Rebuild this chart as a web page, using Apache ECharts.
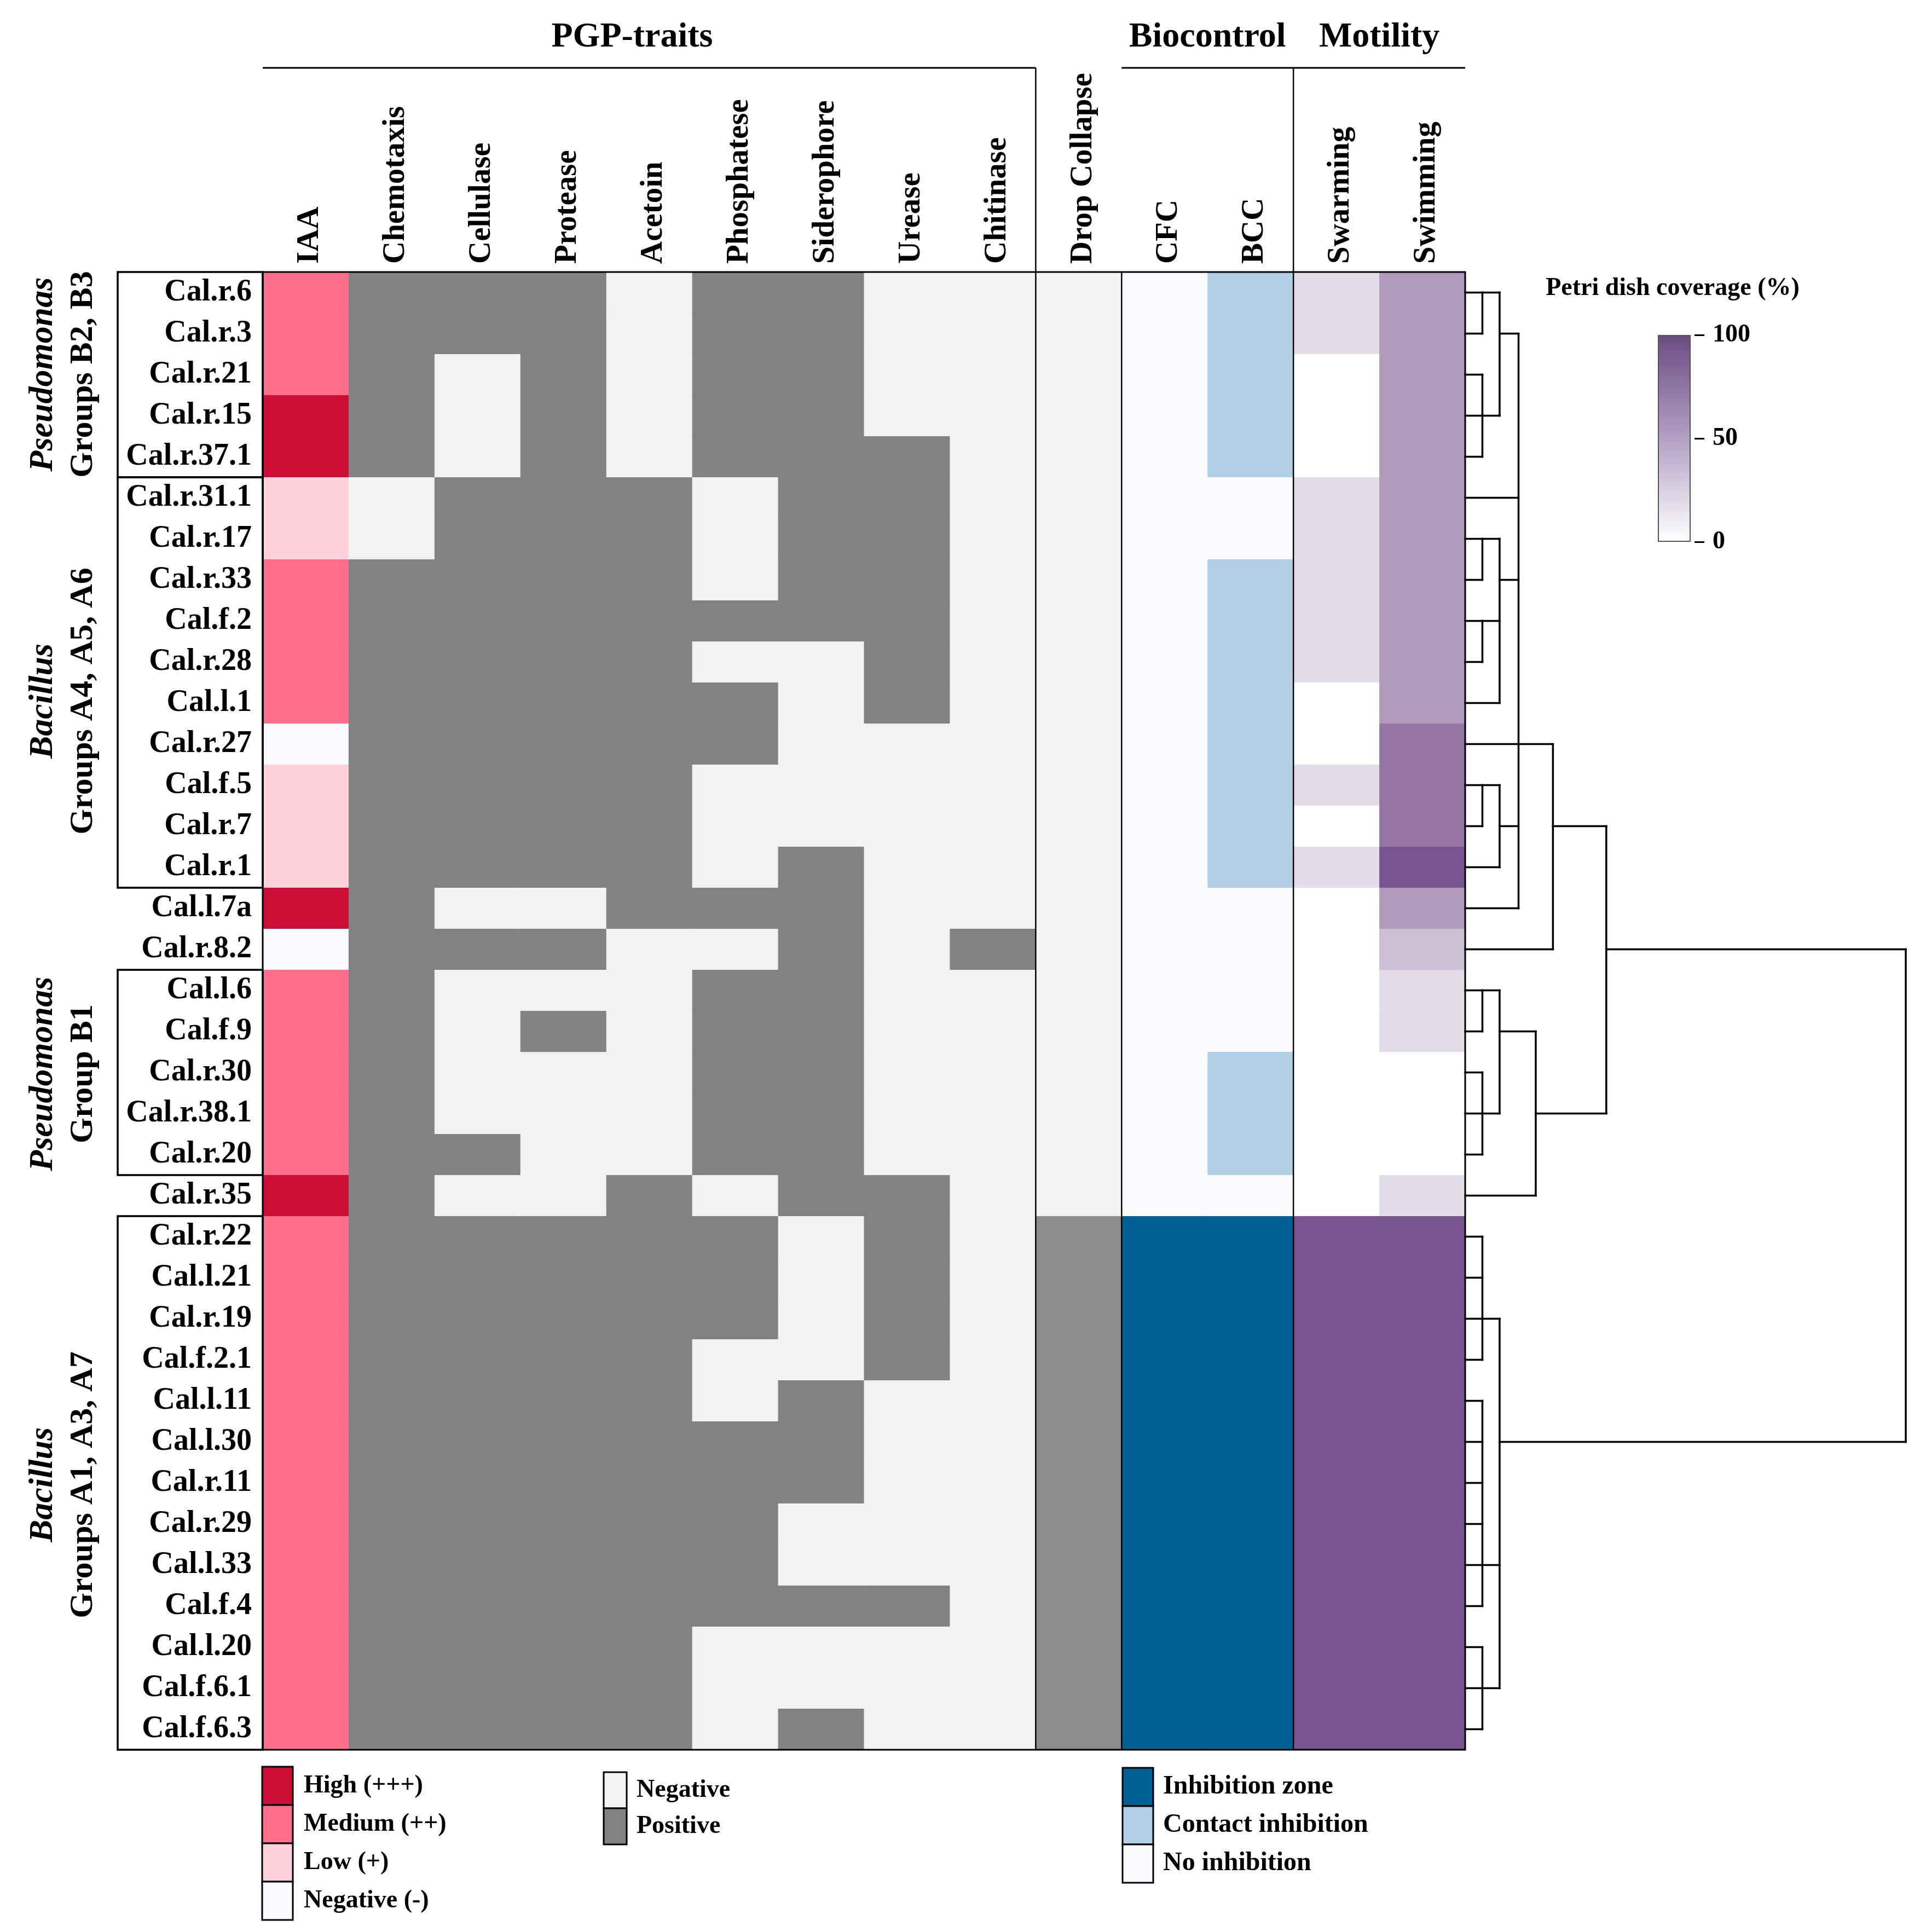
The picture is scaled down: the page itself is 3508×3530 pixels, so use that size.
<!DOCTYPE html>
<html><head><meta charset="utf-8">
<script src="https://cdn.jsdelivr.net/npm/echarts@6/dist/echarts.min.js"></script>
<style>html,body{margin:0;padding:0;background:#fff}#c{width:3508px;height:3530px}</style>
</head><body><div id="c"></div>
<script>
// ---------------- DATA ----------------
const strains = ['Cal.r.6','Cal.r.3','Cal.r.21','Cal.r.15','Cal.r.37.1','Cal.r.31.1','Cal.r.17','Cal.r.33','Cal.f.2','Cal.r.28','Cal.l.1','Cal.r.27','Cal.f.5','Cal.r.7','Cal.r.1','Cal.l.7a','Cal.r.8.2','Cal.l.6','Cal.f.9','Cal.r.30','Cal.r.38.1','Cal.r.20','Cal.r.35','Cal.r.22','Cal.l.21','Cal.r.19','Cal.f.2.1','Cal.l.11','Cal.l.30','Cal.r.11','Cal.r.29','Cal.l.33','Cal.f.4','Cal.l.20','Cal.f.6.1','Cal.f.6.3'];
const traits = ['IAA','Chemotaxis','Cellulase','Protease','Acetoin','Phosphatese','Siderophore','Urease','Chitinase','Drop Collapse','CFC','BCC','Swarming','Swimming'];
// IAA: 0 negative, 1 low, 2 medium, 3 high
const iaa          = [2,2,2,3,3, 1,1,2,2,2, 2,0,1,1,1, 3,0,2,2,2, 2,2,3, 2,2,2,2,2, 2,2,2,2,2, 2,2,2];
// binary traits: 0 negative, 1 positive
const chemotaxis   = [1,1,1,1,1, 0,0,1,1,1, 1,1,1,1,1, 1,1,1,1,1, 1,1,1, 1,1,1,1,1, 1,1,1,1,1, 1,1,1];
const cellulase    = [1,1,0,0,0, 1,1,1,1,1, 1,1,1,1,1, 0,1,0,0,0, 0,1,0, 1,1,1,1,1, 1,1,1,1,1, 1,1,1];
const protease     = [1,1,1,1,1, 1,1,1,1,1, 1,1,1,1,1, 0,1,0,1,0, 0,0,0, 1,1,1,1,1, 1,1,1,1,1, 1,1,1];
const acetoin      = [0,0,0,0,0, 1,1,1,1,1, 1,1,1,1,1, 1,0,0,0,0, 0,0,1, 1,1,1,1,1, 1,1,1,1,1, 1,1,1];
const phosphatese  = [1,1,1,1,1, 0,0,0,1,0, 1,1,0,0,0, 1,0,1,1,1, 1,1,0, 1,1,1,0,0, 1,1,1,1,1, 0,0,0];
const siderophore  = [1,1,1,1,1, 1,1,1,1,0, 0,0,0,0,1, 1,1,1,1,1, 1,1,1, 0,0,0,0,1, 1,1,0,0,1, 0,0,1];
const urease       = [0,0,0,0,1, 1,1,1,1,1, 1,0,0,0,0, 0,0,0,0,0, 0,0,1, 1,1,1,1,0, 0,0,0,0,1, 0,0,0];
const chitinase    = [0,0,0,0,0, 0,0,0,0,0, 0,0,0,0,0, 0,1,0,0,0, 0,0,0, 0,0,0,0,0, 0,0,0,0,0, 0,0,0];
const dropCollapse = [0,0,0,0,0, 0,0,0,0,0, 0,0,0,0,0, 0,0,0,0,0, 0,0,0, 1,1,1,1,1, 1,1,1,1,1, 1,1,1];
// biocontrol: 0 no inhibition, 1 contact inhibition, 2 inhibition zone
const cfc          = [0,0,0,0,0, 0,0,0,0,0, 0,0,0,0,0, 0,0,0,0,0, 0,0,0, 2,2,2,2,2, 2,2,2,2,2, 2,2,2];
const bcc          = [1,1,1,1,1, 0,0,1,1,1, 1,1,1,1,1, 0,0,0,0,1, 1,1,0, 2,2,2,2,2, 2,2,2,2,2, 2,2,2];
// motility: Petri dish coverage (%)
const swarming     = [20,20,0,0,0, 20,20,20,20,20, 0,0,20,0,20, 0,0,0,0,0, 0,0,0, 100,100,100,100,100, 100,100,100,100,100, 100,100,100];
const swimming     = [59,59,59,59,59, 59,59,59,59,59, 59,80,80,80,100, 59,38,20,20,0, 0,0,20, 100,100,100,100,100, 100,100,100,100,100, 100,100,100];
const colorbarTicks = [0, 50, 100];

// Row dendrogram (rows 1-based; h = merge height; y = row where the node's branch leaves)
const dendroNodes = [
  {id:'N1',  h:1,    kids:[1,2],            y:1},
  {id:'N2',  h:1,    kids:[3,4,5],          y:4},
  {id:'N3',  h:2,    kids:['N1','N2'],      y:2},
  {id:'N7',  h:1,    kids:[7,8],            y:7},
  {id:'N8',  h:1,    kids:[9,10],           y:9},
  {id:'N5',  h:2,    kids:['N7','N8',11],   y:8},
  {id:'N9',  h:1,    kids:[13,14],          y:13},
  {id:'N6',  h:2,    kids:['N9',15],        y:14},
  {id:'N4',  h:3.1,  kids:['N3',6,'N5',12,'N6',16], y:12},
  {id:'N10', h:5.1,  kids:['N4',17],        y:14},
  {id:'N12', h:1,    kids:[18,19],          y:18},
  {id:'N13', h:1,    kids:[20,21,22],       y:21},
  {id:'N14', h:2,    kids:['N12','N13'],    y:19},
  {id:'N11', h:4.1,  kids:['N14',23],       y:21},
  {id:'N15', h:8.2,  kids:['N10','N11'],    y:17},
  {id:'N16', h:1,    kids:[24,25,26,27],    y:26},
  {id:'N17', h:1,    kids:[28,29,30,31,32,33], y:32},
  {id:'N18', h:1,    kids:[34,35,36],       y:35},
  {id:'N19', h:2,    kids:['N16','N17','N18'], y:29},
  {id:'root',h:25.6, kids:['N15','N19'],    y:23}
];

// ---------------- STYLE / LAYOUT ----------------
const SERIF = '"Liberation Serif","Times New Roman",serif';
const G = {x:480, y:497, w:2197, h:2700};
const colW = G.w / traits.length, rowH = G.h / strains.length;
const D = {x:2677, w:805};

const columns = [iaa, chemotaxis, cellulase, protease, acetoin, phosphatese, siderophore, urease, chitinase, dropCollapse, cfc, bcc, swarming, swimming];
const kinds = ['iaa','bin','bin','bin','bin','bin','bin','bin','bin','dc','bio','bio','mot','mot'];
const iaaColors = ['#fbfbff','#ffd1dc','#ff6f8b','#cc0e36'];
const binColors = ['#f2f2f2','#828282'];
const dcColors  = ['#f2f2f2','#8c8c8c'];
const bioColors = ['#fbfbff','#b3cfe6','#006094'];
const motLow = [255,255,255], motHigh = [122,84,144];
function motColor(v){
  const t = Math.max(0, Math.min(1, v/100));
  const c = motLow.map((a,i)=>Math.round(a + (motHigh[i]-a)*t));
  return 'rgb(' + c.join(',') + ')';
}
function colorFor(c, v){
  switch(kinds[c]){
    case 'iaa': return iaaColors[v];
    case 'bin': return binColors[v];
    case 'dc': return dcColors[v];
    case 'bio': return bioColors[v];
    default: return motColor(v);
  }
}

const cellData = [];
columns.forEach((arr, c) => arr.forEach((v, r) => cellData.push([c, r, v])));

// dendrogram segments in data units
const nodeMap = {};
dendroNodes.forEach(n => nodeMap[n.id] = n);
function yOf(k){ return (typeof k === 'number' ? k : nodeMap[k].y) - 1; }
function hOf(k){ return typeof k === 'number' ? 0 : nodeMap[k].h; }
const segs = [];
dendroNodes.forEach(n => {
  const ys = n.kids.map(yOf);
  segs.push([n.h, Math.min(...ys), n.h, Math.max(...ys)]);
  n.kids.forEach(k => segs.push([hOf(k), yOf(k), n.h, yOf(k)]));
});

// ---------------- GRAPHICS ----------------
const gfx = [];
function line(x1,y1,x2,y2,w){ gfx.push({type:'line', z:100, shape:{x1,y1,x2,y2}, style:{stroke:'#000', lineWidth:w}}); }
function text(t,x,y,font,opts){
  opts = opts || {};
  gfx.push({type:'text', z:100, x:x, y:y, rotation: opts.rot || 0,
    style:{text:t, font:font, fill:'#000', textAlign:opts.align||'center', align:opts.align||'center', textVerticalAlign:'middle', verticalAlign:'middle'}});
}
function rect(x,y,w,h,fill,stroke,lw){ gfx.push({type:'rect', z:100, shape:{x,y,width:w,height:h}, style:{fill:fill, stroke:stroke, lineWidth:lw}}); }

// heatmap frame and separators
rect(G.x, G.y, G.w, G.h, 'none', '#000', 3);
[9,10,12].forEach(k => line(G.x + k*colW, G.y, G.x + k*colW, G.y + G.h, 2.5));
// header brackets
const hy = 124;
line(G.x, hy, G.x + 9*colW, hy, 3);
line(G.x + 10*colW, hy, G.x + G.w, hy, 3);
line(G.x + 9*colW, hy, G.x + 9*colW, G.y, 2.5);
line(G.x + 12*colW, hy, G.x + 12*colW, G.y, 2.5);
const HF = 'bold 64px ' + SERIF;
text('PGP-traits', 1155, 68, HF);
text('Biocontrol', G.x + 11*colW, 68, HF);
text('Motility', G.x + 13*colW, 68, HF);

// column headers (read bottom to top)
traits.forEach((t, i) => text(t, G.x + (i + 0.5)*colW + 8, 482, 'bold 57px ' + SERIF, {rot: Math.PI/2, align:'left'}));

// group boxes and labels
const groups = [
  {r0:0, r1:5, genus:'Pseudomonas', sub:'Groups B2, B3', cy:684},
  {r0:5, r1:15, genus:'Bacillus', sub:'Groups A4, A5, A6', cy:1281},
  {r0:17, r1:22, genus:'Pseudomonas', sub:'Group B1', cy:1962},
  {r0:23, r1:36, genus:'Bacillus', sub:'Groups A1, A3, A7', cy:2713}
];
groups.forEach(g => {
  rect(215, G.y + g.r0*rowH, G.x - 215, (g.r1 - g.r0)*rowH, 'none', '#000', 3.5);
  text(g.genus, 79, g.cy, 'italic bold 62px ' + SERIF, {rot: Math.PI/2});
  text(g.sub, 152, g.cy, 'bold 60px ' + SERIF, {rot: Math.PI/2});
});

// colorbar title
text('Petri dish coverage (%)', 3056, 527, 'bold 46px ' + SERIF);

// legends
const LF = 'bold 46px ' + SERIF;
const iaaLegend = ['High (+++)','Medium (++)','Low (+)','Negative (-)'];
[3,2,1,0].forEach((lvl, i) => {
  rect(479, 3228 + i*70, 56, 70, iaaColors[lvl], '#000', 3);
  text(iaaLegend[i], 555, 3263 + i*70, LF, {align:'left'});
});
const binLegend = ['Negative','Positive'];
[0,1].forEach((lvl, i) => {
  rect(1103, 3238 + i*66, 42, 66, binColors[lvl], '#000', 3);
  text(binLegend[i], 1163, 3271 + i*66, LF, {align:'left'});
});
const bioLegend = ['Inhibition zone','Contact inhibition','No inhibition'];
[2,1,0].forEach((lvl, i) => {
  rect(2051, 3230 + i*70, 56, 70, bioColors[lvl], '#000', 3);
  text(bioLegend[i], 2125, 3265 + i*70, 'bold 48px ' + SERIF, {align:'left'});
});

// ---------------- CHART ----------------
const chart = echarts.init(document.getElementById('c'), null, {renderer:'canvas'});
chart.setOption({
  animation: false,
  backgroundColor: '#fff',
  grid: [
    {left:G.x, top:G.y, width:G.w, height:G.h},
    {left:D.x, top:G.y, width:D.w, height:G.h},
    {left:3029, top:612, width:60, height:378}
  ],
  xAxis: [
    {gridIndex:0, type:'category', data:traits, position:'top',
     axisLine:{show:false}, axisTick:{show:false}, splitLine:{show:false}, axisLabel:{show:false}},
    {gridIndex:1, type:'value', min:0, max:25.6, show:false},
    {gridIndex:2, type:'category', data:['cov'], show:false}
  ],
  yAxis: [
    {gridIndex:0, type:'category', data:strains, inverse:true,
     axisLine:{show:false}, axisTick:{show:false}, splitLine:{show:false},
     axisLabel:{interval:0, margin:20, color:'#000', fontSize:56, fontWeight:'bold', fontFamily:SERIF}},
    {gridIndex:1, type:'value', min:-0.5, max:strains.length - 0.5, inverse:true, show:false},
    {gridIndex:2, type:'value', min:colorbarTicks[0], max:colorbarTicks[2], interval:colorbarTicks[1], position:'right', offset:7,
     axisLine:{show:false}, splitLine:{show:false},
     axisTick:{show:true, length:18, lineStyle:{color:'#000', width:3}},
     axisLabel:{margin:33, color:'#000', fontSize:46, fontWeight:'bold', fontFamily:SERIF}}
  ],
  series: [
    {type:'custom', name:'cells', xAxisIndex:0, yAxisIndex:0, data:cellData, silent:true,
     encode:{x:0, y:1},
     renderItem: function(params, api){
       const c = api.value(0), r = api.value(1), v = api.value(2);
       const p = api.coord([c, r]);
       const s = api.size([1, 1]);
       return {type:'rect', shape:{x:p[0]-s[0]/2, y:p[1]-s[1]/2, width:s[0]+0.8, height:s[1]+0.8},
               style:{fill:colorFor(c, v)}};
     }},
    {type:'custom', name:'dendrogram', xAxisIndex:1, yAxisIndex:1, data:segs, silent:true, clip:false,
     encode:{x:[0,2], y:[1,3]},
     renderItem: function(params, api){
       const a = api.coord([api.value(0), api.value(1)]);
       const b = api.coord([api.value(2), api.value(3)]);
       return {type:'line', shape:{x1:a[0], y1:a[1], x2:b[0], y2:b[1]},
               style:{stroke:'#000', lineWidth:3.5, lineCap:'square'}};
     }},
    {type:'bar', name:'colorbar', xAxisIndex:2, yAxisIndex:2, data:[colorbarTicks[2]], barWidth:'100%', silent:true,
     itemStyle:{borderColor:'#555', borderWidth:2,
       color: new echarts.graphic.LinearGradient(0,0,0,1,[{offset:0,color:'#6b4b82'},{offset:0.5,color:'#b3a0c4'},{offset:1,color:'#ffffff'}])}}
  ],
  graphic: gfx
});
</script></body></html>
